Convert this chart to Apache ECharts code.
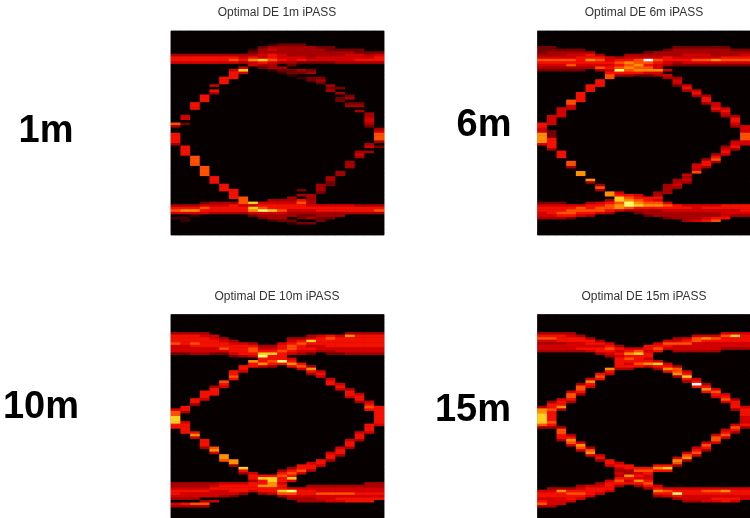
<!DOCTYPE html>
<html><head><meta charset="utf-8">
<style>html,body{margin:0;padding:0;background:#fff}#c{width:750px;height:518px;filter:blur(0.5px)}</style>
<script src="https://cdn.jsdelivr.net/npm/echarts@6/dist/echarts.min.js"></script>
</head><body><div id="c"></div>
<script>
// each string is one column of the picture: "row:level" or "rowA-rowB:level", row 0 at top
const eye1m = [
"9:3 10-11:5 12:4 36:6 37:3 40-43:5 44:3 68:3 69:5 70:6 71:4 73:1",
"9:3 10-11:5 12:4 33-34:4 36:2 45-48:5 68:3 69:5 70:7 71:4 73-74:1",
"9:3 10-11:5 12:4 28-30:5 49-52:6 68:3 69:5 70:7 71:4 72:1",
"9:3 10-11:5 12:4 25-27:5 53-56:6 67:2 68:4 69:6 70:5 71:4",
"9:3 10-11:5 12:4 21:4 23:5 24:3 57-59:5 67:3 68:4 69:5 70:5 71:3",
"9:3 10-11:5 12:4 18-20:5 60-62:5 67:3 68:4 69:5 70:5 71:3",
"9:3 10:5 11:6 12:4 15:4 16-18:5 62-65:5 67:3 68:5 69-70:5 71:3",
"9:3 10:4 11:5 12:3 14:4 15:8 16:4 65-67:6 68:4 69:5 70:5 71:3",
"7:1 8:2 9:3 10:5 11:7 12:4 13:4 67:8 68:4 69:8 70:7 71:4 72:2",
"6:2 7:3 8:3 9:4 10:4 11:8 12:5 13:3 14:2 67:4 68:5 69:6 70:9 71:4 72:3 73:2",
"5:1 6:3 7:4 8:3 9:5 10:5 11:6 12:4 13:3 14:3 15:1 66:3 67:4 68:5 69:5 70:8 71:4 72:3 73:3 74:1",
"5:2 6:3 7:3 8:3 9:4 10:4 11:5 12:3 14:3 15:2 16:1 66:3 67:4 68:5 69:5 70:6 71:4 72:3 73:3 74:2",
"5:2 6:3 7:3 8:3 9:3 10:4 11:4 12:3 13:2 15:2 16:2 17:1 65:3 66:3 67:4 68:5 69:5 70:4 71:3 72:3 74:2 75:1",
"5:2 6:3 7:3 8:3 9:3 10:4 11:5 12:2 15:3 16:2 18:1 62:2 64:3 66:5 67:6 68:5 69:5 70:4 71:3 72:2 73:2 75:2",
"6:3 7:3 8:3 9:3 10:3 11:4 12:2 15:2 16:3 18:2 19:2 64:3 65:3 66:3 67:3 68:4 69:5 70:4 71:3 72:2 73:3 75:2",
"6:2 7:3 8:3 9:3 10:4 11:4 12:2 18:2 19:3 20:2 60:3 61:3 62:3 63:2 68:4 69:5 70:5 71:3 72:3 73:2 74:2",
"6:2 7:2 8:3 9:3 10:4 11:4 12:2 21:3 22:2 23:3 57:3 58:3 59:2 60:2 68:4 69:5 70:5 71:3 72:3 73:2",
"7:2 8:3 9:3 10:4 11:4 12:3 22:2 24:3 26:2 27:2 55:3 56:3 68:4 69:5 70:5 71:3 72:3",
"7:2 8:3 9:4 10:4 11:4 12:3 25:2 26:3 28:2 29:3 51:3 52:3 53:3 68:4 69:5 70:5 71:3",
"7:2 8:2 9:4 10:4 11:5 12:3 28:2 29:3 31:3 47:3 48:4 49:3 68:3 69:5 70:5 71:3",
"8:2 9:3 10:4 11:5 12:3 32:3 33:3 34:4 35:4 36:3 37:2 44:3 45:4 47:3 68:3 69:5 70:5 71:3",
"8:2 9:4 10:5 11:5 12:3 38:3 39:4 40:6 41:6 42:6 43:3 45:2 68:3 69:5 70:6 71:3"
];
const eye6m = [
"6:2 7:2 8:2 9:3 10:4 11:6 12:5 13:4 14:3 15:2 36-37:5 38-39:4 40-43:7 44:4 67:2 68:4 69:5 70:5 71:4 72:4 73:3",
"6:2 7:2 8:3 9:3 10:4 11:6 12:5 13:4 14:3 15:2 33-36:4 39-41:2 42-45:5 46:3 67:2 68:4 69:5 70:5 71:5 72:4 73:3",
"7:2 8:3 9:3 10:4 11:6 12:5 13:4 14:3 15:2 30-33:4 47-49:5 67:2 68:4 69:5 70:5 71:6 72:5 73:3",
"7:2 8:3 9:4 10:4 11:6 12:5 13:6 14:3 15:2 27-28:6 29-30:4 51-52:6 53:3 68:4 69:5 70:6 71:6 72:5 73:2",
"7:2 8:3 9:4 10:5 11:5 12:5 13:4 14:3 15:2 24-27:5 55-56:7 68:4 69:6 70:6 71:5 72:4",
"8:3 9:5 10:5 11:7 12:5 13:4 14:3 21-23:5 58:7 59:3 67:3 68:5 69:5 70:6 71:5 72:3",
"9:3 10:5 11:6 12:5 13:4 14:6 15:3 19-21:5 60:3 61:6 62:3 67:4 68:5 69:6 70:6 71:4",
"10:4 11:4 12:5 13:4 14:5 15:4 16:5 17-18:6 63-64:7 66:3 67:5 68:6 69:6 70:5 71:3",
"10:3 11:5 12:6 13:5 14:6 15:9 16:5 17:3 63:4 64:5 65:8 66:8 67:6 68:7 69:7 70:4",
"9:3 10:4 11:5 12:7 13:6 14:7 15:6 16:5 17:3 64:5 65:6 66:7 67:9 68:9 69:6 70:3",
"9:3 10:4 11:6 12:6 13:7 14:6 15:7 16:5 17:2 64:4 65:5 66:6 67:7 68:8 69:5 70:3 71:2",
"8:2 9:3 10:4 11:10 12:6 13:5 14:6 15:7 16:4 17:2 65:5 66:5 67:6 68:7 69:5 70:3 71:3 72:2",
"8:3 9:3 10:4 11:6 12:5 13:4 14:4 15:7 16:4 17:3 63:3 64:3 65:5 66:4 67:6 68:7 69:5 70:3 71:3 72:3",
"7:2 8:3 9:3 10:5 11:5 12:4 13:3 15:4 17:4 18:3 60:3 61:3 62:3 63:3 67:4 68:6 69:5 70:4 71:3 72:3 73:2",
"6:2 7:3 8:3 9:3 10:4 11:5 12:3 13:2 18:3 19:4 20:4 21:2 58:3 59:3 60:4 61:3 68:5 69:5 70:4 71:3 72:3 73:3",
"6:2 7:3 8:3 9:4 10:4 11:5 12:4 13:2 21:4 22:5 23:3 56:4 57:3 58:4 59:3 68:4 69:5 70:4 71:3 72:3 73:3 74:3",
"6:2 7:3 8:3 9:4 10:4 11:6 12:4 13:2 23:4 24:5 25:3 52:4 53:4 54:4 55:6 68:4 69:4 70:4 71:3 72:3 73:3 74:4",
"6:2 7:3 8:3 9:4 10:4 11:6 12:4 13:2 25:3 26:5 27:5 28:3 50:3 51:5 52:5 53:3 68:4 69:5 70:4 71:3 72:3 73:4 74:5",
"6:2 7:3 8:3 9:3 10:4 11:7 12:4 13:2 28:4 29:4 30:5 31:3 48:3 49:5 50:6 51:3 68:4 69:5 70:4 71:3 72:3 73:5 74:6",
"6:2 7:3 8:3 9:3 10:5 11:6 12:4 13:2 30:4 31:5 32:4 33:3 45:3 46:4 47:5 48:4 68:5 69:5 70:4 71:4 72:4 73:5",
"7:2 8:3 9:3 10:5 11:6 12:4 13:2 33:3 34:5 35:5 36:4 37:3 43:4 44:4 45:5 46:3 68:5 69:5 70:4 71:4 72:3",
"7:2 8:3 9:4 10:5 11:6 12:4 13:2 37-39:4 40-41:6 42:6 43-44:4 68:5 69:5 70:5 71:4 72:3"
];
const eye10m = [
"7:3 8:5 9:5 10:5 11:6 12:4 13:4 14:4 15:2 37:4 38-39:6 40-42:8 43-44:5 66:3 67:3 68:4 69:5 70:5 71:4 72:3 74:4 75:3",
"7:3 8:5 9:5 10:5 11:5 12:4 13:4 14:4 15:2 36:5 37:5 38:3 42:4 43-46:5 66:3 67:3 68:4 69:5 70:4 71:4 72:3 74:5 75:3",
"7:3 8:5 9:5 10:5 11:6 12:5 13:4 14:4 15:3 33:5 34:5 35:3 46:5 47:7 48:4 66:3 67:3 68:4 69:5 70:4 71:4 72:3 74:6 75:3",
"7:3 8:4 9:5 10:5 11:5 12:5 13:4 14:4 15:3 30-32:5 33:4 49-51:5 52:3 66:3 67:3 68:4 69:5 70:4 71:4 73:3 74:6 75:3",
"8:4 9:4 10:5 11:5 12:5 13:4 14:4 15:2 28:3 29-31:5 52:6 53:7 54:4 66:3 67:4 68:5 69:4 70:4 71:4 73:4",
"9:3 10:4 11:5 12:5 13:6 14:4 15:2 26:6 27:5 28:4 55-56:7 57:6 66:4 67:5 68:5 69:4 70:4 71:3",
"10:3 11:4 12:5 13:5 14:5 15:4 16:2 22-23:5 24:6 25:5 57:7 58:7 59:3 66:4 67:5 68:5 69:5 70:4 71:2",
"11:4 12:5 13:5 14:5 15:5 16:3 20:5 21:5 22:4 60:8 61:5 62:3 66:4 67:5 68:5 69:5 70:3",
"11:3 12:5 13:6 14:6 15:5 16:4 18:7 19:5 20:5 62:4 63:5 64:5 65:3 66:5 67:5 68:5 69:4",
"12:3 13:4 14:5 15:8 16:9 17:5 18:5 19:7 20:4 63:5 64:8 65:5 66:5 67:7 68:5 69:5 70:3",
"12:3 13:4 14:5 15:8 16:5 17:5 18:6 19:5 20:3 63:5 64:8 65:8 66:7 67:7 68:5 69:5 70:4",
"11:4 12:5 13:5 14:6 15:5 16:5 17:5 18:9 19:5 61:3 62:5 63:6 64:5 65:5 66:4 67:5 68:5 69:8 70:6 71:3",
"9:3 10:4 11:5 12:6 13:6 14:5 15:4 17:4 18:5 19:7 20:5 60:3 61:5 62:6 63:5 64:8 65:4 68:4 69:9 70:6 71:4 72:3",
"9:3 10:5 11:6 12:5 13:5 14:4 15:3 19:5 20:6 21:4 59:5 60:5 61:6 62:4 68:4 69:5 70:5 71:4 72:3 73:3",
"8:3 9:4 10:8 11:5 12:4 13:5 14:4 15:2 20:3 21:7 22:5 23:3 58:4 59:5 60:5 61:3 67:3 68:4 69:5 70:5 71:4 72:3 73:3",
"8:4 9:5 10:5 11:5 12:4 13:4 14:3 22:4 23:5 24:4 57:5 58:5 59:4 67:3 68:4 69:4 70:6 71:4 72:4 73:3",
"8:5 9:6 10:5 11:5 12:5 13:4 14:3 15:2 25:4 26:5 27:5 54:4 55:5 56:5 57:3 67:3 68:4 69:4 70:6 71:4 72:4 73:4",
"8:4 9:5 10:5 11:5 12:5 13:4 14:4 15:2 27:4 28:5 29:4 52:4 53:5 54:5 55:3 67:3 68:4 69:4 70:6 71:4 72:5 73:4",
"7:3 8:7 9:5 10:5 11:5 12:5 13:4 14:4 15:3 29:3 30:5 31:5 32:4 49:4 50:5 51:5 52:3 67:3 68:4 69:4 70:6 71:4 72:5 73:5",
"7:3 8:5 9:5 10:5 11:5 12:5 13:4 14:4 15:3 31:4 32:5 33:5 34:3 46:4 47:5 48:5 49:3 67:3 68:4 69:4 70:5 71:4 72:5 73:5",
"7:3 8:5 9:5 10:5 11:5 12:5 13:4 14:4 15:3 34:4 35:5 36:6 37:5 43:5 44:5 45:5 46:4 66:3 67:3 68:4 69:4 70:5 71:4 72:5 73:5",
"7:3 8:5 9:5 10:5 11:5 12:5 13:4 14:4 15:3 36:5 37:5 38-41:5 42:5 43:4 66:3 67:3 68:4 69:4 70:5 71:4 72:5"
];
const eye15m = [
"7:3 8:5 9:6 10:4 11:3 12:4 13:4 14:3 36:3 37-38:7 39-42:8 43:6 44:3 69:4 70:5 71:5 72:4 73:5 74:6 75:3",
"7:3 8:5 9:6 10:4 11:3 12:4 13:4 14:3 34:3 35:5 36:5 37:6 38-41:5 42:6 43:5 44:3 68:3 69:4 70:5 71:5 72:4 73:4 74:4 75:3",
"7:3 8:5 9:5 10:5 11:3 12:4 13:4 14:3 33:4 34:5 35:5 36:7 37:3 44:3 45-46:6 47-48:5 49:3 68:3 69:7 70:5 71:5 72:4 73:4 74:4",
"7:3 8:4 9:5 10:5 11:4 12:4 13:4 14:3 30:4 31:6 32:6 33:5 34:3 47:3 48:5 49:7 50:6 51:4 68:3 69:5 70:6 71:5 72:5 73:4",
"8:3 9:5 10:5 11:4 12:4 13:5 14:3 27:3 28:6 29:6 30:5 31:3 50:4 51:7 52:6 53:4 67:3 68:4 69:5 70:6 71:5 72:4",
"9:3 10:5 11:5 12:4 13:5 14:4 25:4 26:7 27:5 28:4 52:3 53:6 54:7 55:4 67:4 68:5 69:5 70:5 71:4",
"10:3 11:5 12:4 13:5 14:5 15:3 23:5 24:6 25:5 55:4 56:5 57:3 66:3 67:4 68:5 69:5 70:4",
"11:4 12:5 13:6 14:5 15:4 16:3 21:7 22:5 23:4 57:5 58:5 59:4 65:4 66:5 67:5 68:5 69:4",
"12:3 13:5 14:4 15:5 16:4 17:5 18:5 19:5 20:5 21:3 58:4 59:5 60:4 61:3 62:4 63:3 64:5 65:6 66:5 67:3",
"13:4 14:5 15:7 16:5 17:6 18:5 19:4 20:5 21:3 59:5 60:5 61:3 62:3 63:7 64:5 65:4 66:5",
"13:4 14:6 15:8 16:5 17:5 18:5 19:6 20:5 60:5 61:6 62:4 63:5 64:4 65:7 66:5 67:3",
"12:5 13:5 14:4 15:5 16:5 17:4 18:5 19:7 20:4 60:5 61:6 62:5 63:4 64:4 65:5 66:6 67:5 68:3",
"11:4 12:5 13:6 14:5 18:4 19:8 20:5 21:3 59:5 60:7 61:5 67:4 68:5 69:7 70:5 71:3",
"10:4 11:6 12:5 13:4 19:4 20:5 21:7 22:5 59:5 60:8 61:5 68:4 69:6 70:5 71:4",
"9:3 10:4 11:6 12:4 13:4 14:3 20:3 21:6 22:6 23:7 24:3 56:4 57:7 58:6 59:3 68:4 69:5 70:9 71:5 72:3",
"9:4 10:5 11:6 12:4 13:4 14:3 22:4 23:5 24:8 25:5 26:3 54:4 55:6 56:7 57:3 68:4 69:5 70:5 71:4 72:4 73:3",
"8:4 9:6 10:6 11:4 12:4 13:4 14:3 25:4 26:5 27:10 28:5 52:4 53:5 54:6 55:4 68:4 69:5 70:5 71:4 72:4 73:3",
"8:4 9:7 10:5 11:4 12:4 13:4 14:3 27:3 28:5 29:7 30:5 50:4 51:6 52:5 53:3 68:4 69:6 70:5 71:4 72:4 73:4",
"8:4 9:6 10:5 11:4 12:4 13:4 14:3 29:4 30:6 31:5 32:4 47:4 48:6 49:6 50:4 68:4 69:6 70:5 71:4 72:5 73:4",
"7:4 8:6 9:5 10:5 11:4 12:4 13:3 31:4 32:5 33:6 34:4 45:4 46:5 47:6 48:4 68:4 69:7 70:5 71:4 72:5 73:5",
"7:4 8:8 9:5 10:5 11:4 12:4 13:3 33:3 34:5 35:5 36:5 37:3 43:4 44:6 45:5 46:3 68:4 69:5 70:5 71:4 72:5 73:4",
"7:4 8:5 9:5 10:5 11:4 12:4 13:3 36:4 37-38:5 39:5 40-42:4 43:5 44:3 68:4 69:5 70:5 71:4 72:4"
];
const panelTitles = ["Optimal DE 1m iPASS","Optimal DE 6m iPASS","Optimal DE 10m iPASS","Optimal DE 15m iPASS"];
const panelLabels = ["1m","6m","10m","15m"];
const panelData = [eye1m, eye6m, eye10m, eye15m];
const rowCount = 80;
const hotColors = ["#070000","#3c0000","#740000","#a80000","#d40000","#f41000","#ff5000","#ff9000","#ffd020","#ffff70","#ffffff"];

const gridBoxes = [[171,31,213,204],[537.5,31,213,204],[171,314.5,213,204],[537.5,314.5,213,204]];
const titlePos = [[277,7],[644,7],[277,291],[644,291]];
const labelPos = [[46,113],[484,107],[41,389],[473,392]];

function cells(cols){
  const out=[];
  cols.forEach((s,c)=>{
    const col=new Array(rowCount).fill(0);
    s.split(" ").forEach(t=>{
      const [r,l]=t.split(":");
      const [a,b]=r.split("-").map(Number);
      for(let i=a;i<=(b===undefined?a:b);i++) col[i]=+l;
    });
    col.forEach((v,r)=>out.push([c,r,v]));
  });
  return out;
}
const idx=n=>Array.from({length:n},(_,i)=>i);
const chart=echarts.init(document.getElementById("c"),null,{renderer:"canvas"});
chart.setOption({
  animation:false,
  backgroundColor:"#fff",
  title:panelTitles.map((t,i)=>({text:t,left:titlePos[i][0],top:titlePos[i][1],textAlign:"center",padding:0,
     textStyle:{fontFamily:"Liberation Sans",fontSize:12,fontWeight:"normal",color:"#333"}}))
   .concat(panelLabels.map((t,i)=>({text:t,left:labelPos[i][0],top:labelPos[i][1],textAlign:"center",padding:0,
     textStyle:{fontFamily:"Liberation Sans",fontSize:38,fontWeight:"bold",color:"#000"}}))),
  tooltip:{show:false},
  visualMap:{show:false,type:"continuous",min:0,max:10,seriesIndex:[0,1,2,3],inRange:{color:hotColors}},
  grid:gridBoxes.map(g=>({left:g[0],top:g[1],width:g[2],height:g[3],show:true,backgroundColor:"#070000",borderColor:"#8a8a8a",borderWidth:1})),
  xAxis:gridBoxes.map((g,i)=>({type:"category",gridIndex:i,data:idx(panelData[i].length),show:false})),
  yAxis:gridBoxes.map((g,i)=>({type:"category",gridIndex:i,data:idx(rowCount),inverse:true,show:false})),
  series:panelData.map((d,i)=>({type:"heatmap",xAxisIndex:i,yAxisIndex:i,data:cells(d),progressive:0,itemStyle:{borderWidth:0}}))
});
</script></body></html>
